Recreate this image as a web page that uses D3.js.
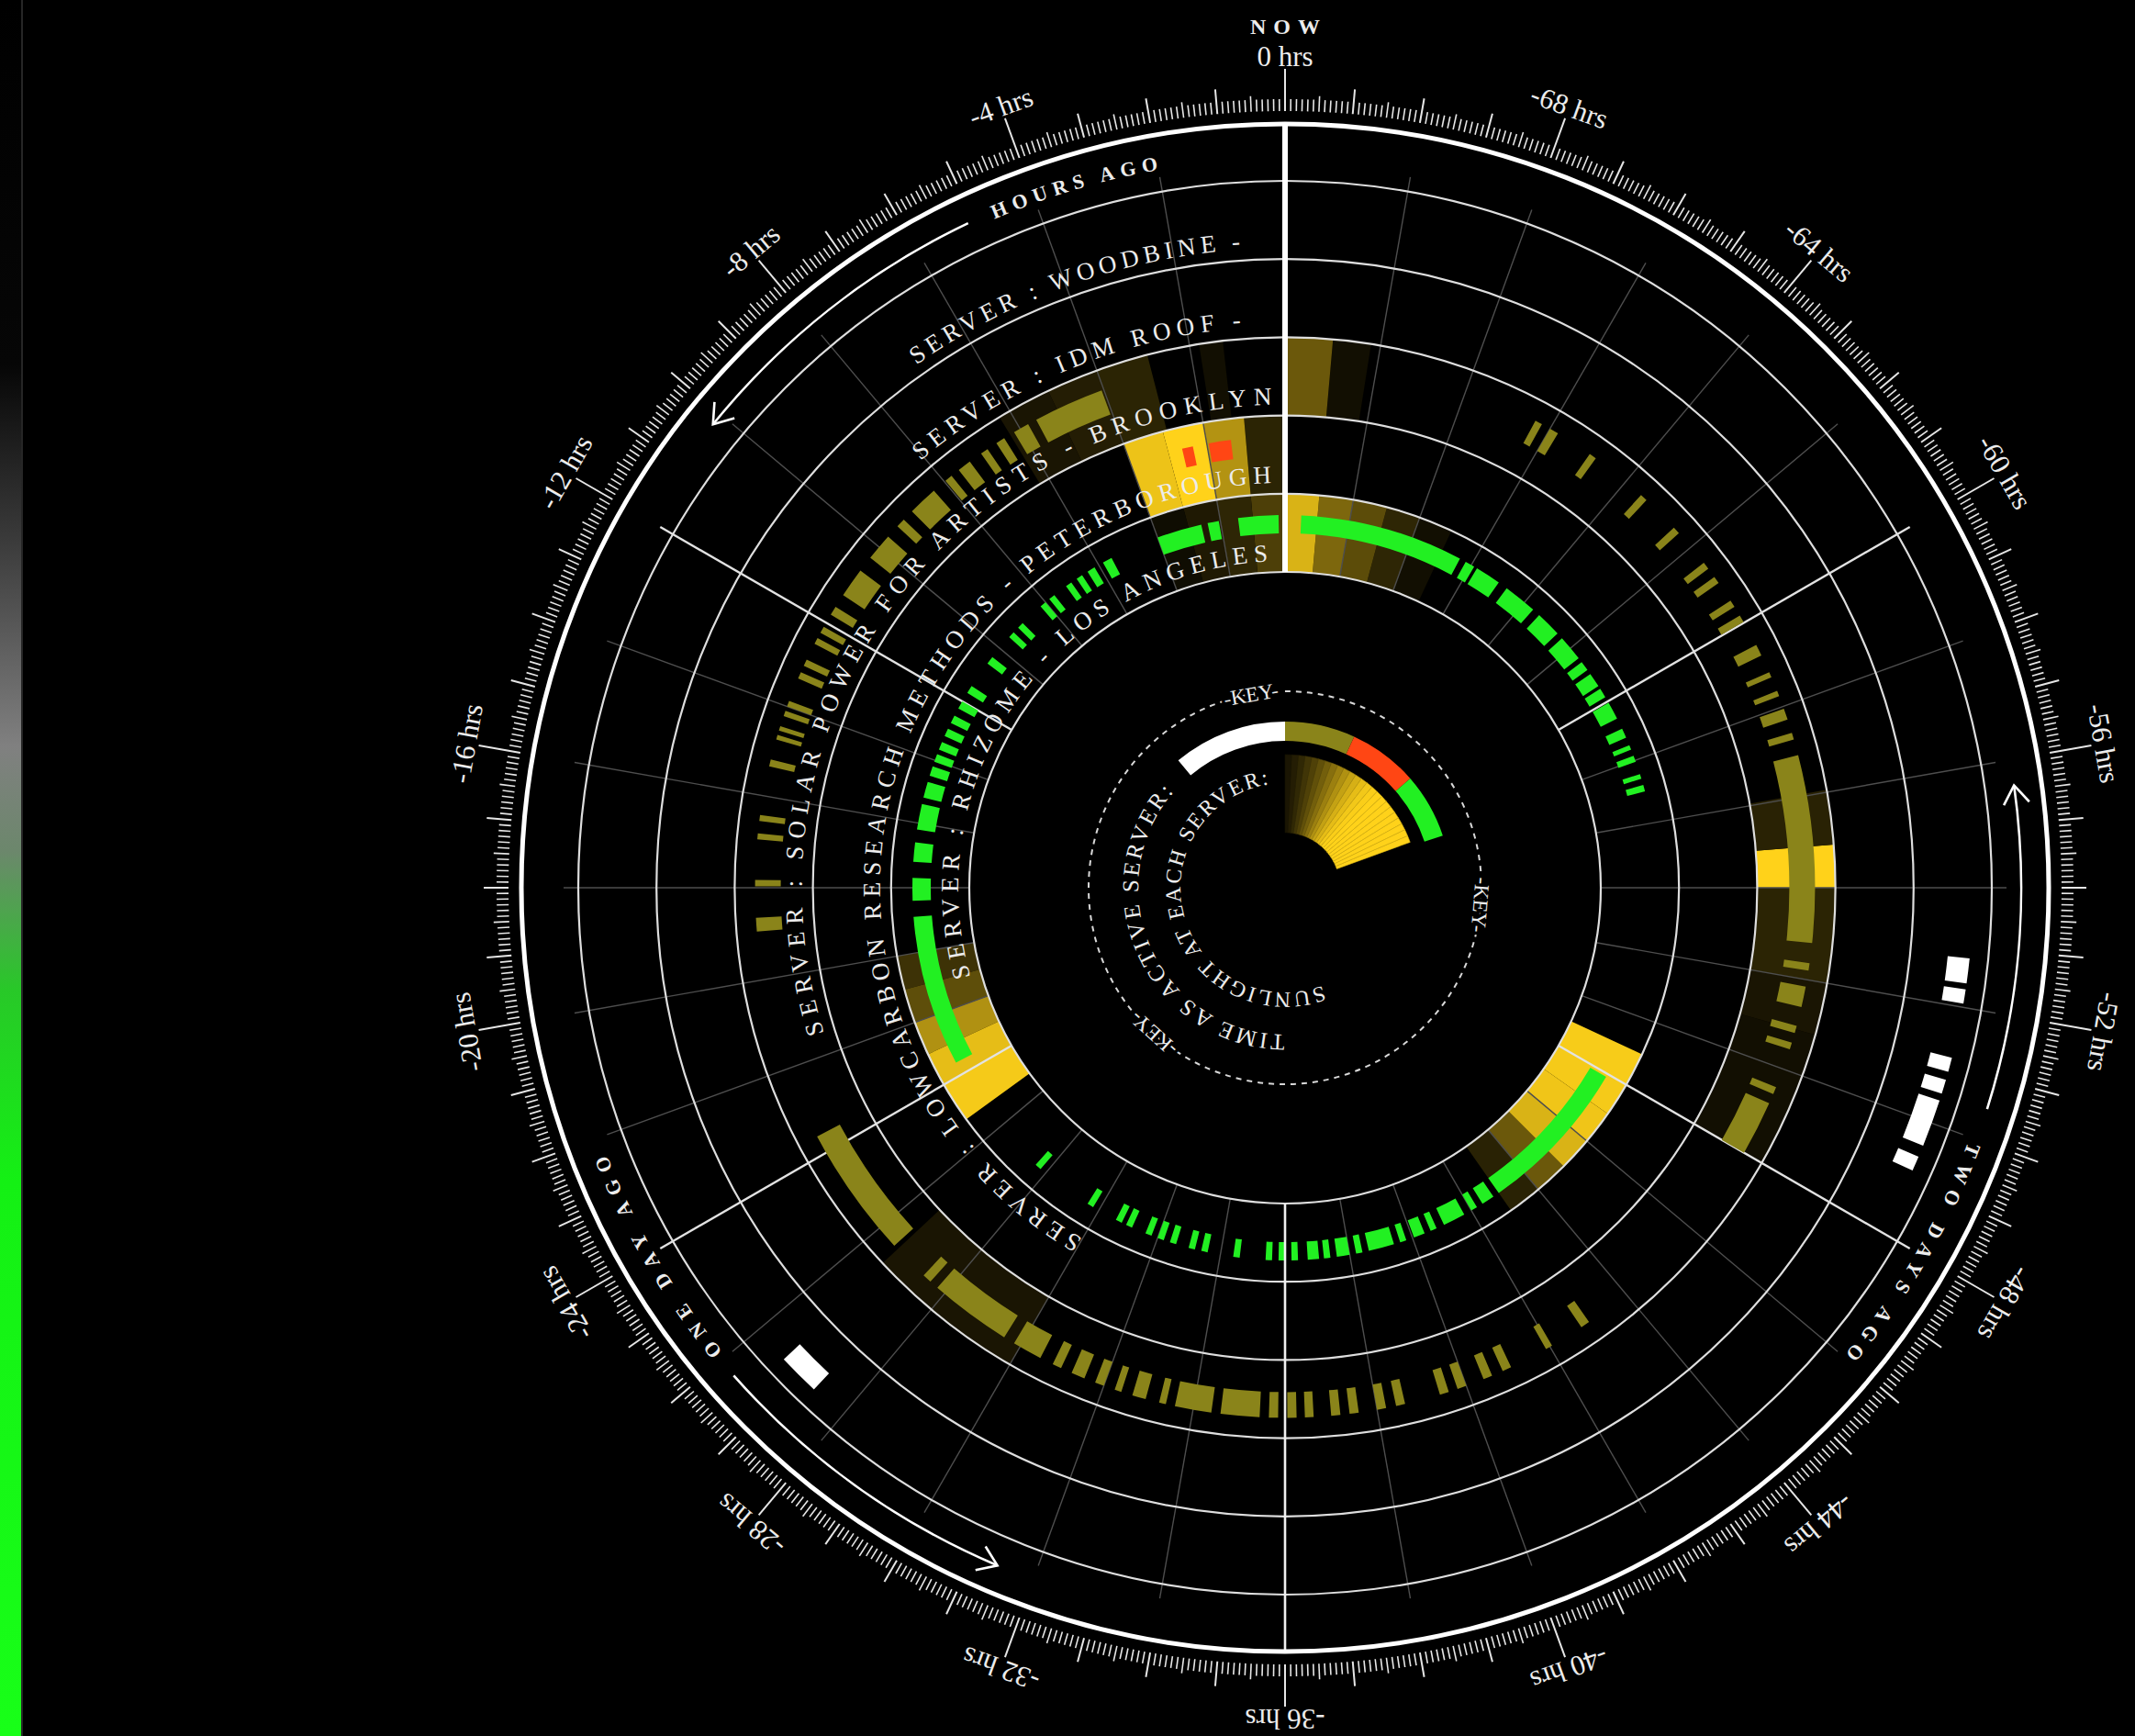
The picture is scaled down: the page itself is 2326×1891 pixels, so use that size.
<!DOCTYPE html>
<html lang="en">
<head>
<meta charset="UTF-8">
<title>Solar servers - the last 72 hours</title>
<script src="https://d3js.org/d3.v7.min.js"></script>
<style>
  html, body { margin: 0; padding: 0; background: #000; overflow: hidden; }
  svg { display: block; }
  text { font-family: "Liberation Serif", "Times New Roman", serif; fill: #ececec; }
</style>
</head>
<body>
<script>
// ---- data: times are hours ago (0 = now, 72 = three days ago) ----
const servers = [
  "SERVER : WOODBINE -",
  "SERVER : IDM ROOF -",
  "SERVER : SOLAR POWER FOR ARTISTS - BROOKLYN",
  "SERVER : LOWCARBON RESEARCH METHODS - PETERBOROUGH",
  "SERVER : RHIZOME - LOS ANGELES"
];

const hourLabels = [0, -4, -8, -12, -16, -20, -24, -28, -32, -36, -40, -44, -48, -52, -56, -60, -64, -68];

// time as active server [from, to]
const woodbineActive = [[26.65, 27.36], [49.15, 49.4], [49.6, 50.4], [50.52, 50.76], [50.9, 51.14], [52.06, 52.3], [52.4, 52.82]];

const brooklynActive = [
  [4.05, 5.6], [5.8, 6.15], [6.4, 6.6], [6.83, 7.0], [7.3, 7.6], [7.8, 7.97], [8.3, 8.95], [9.2, 9.4], [9.7, 10.3],
  [10.65, 11.3], [11.6, 11.8], [12.1, 12.25], [12.38, 12.52], [12.9, 13.05], [13.2, 13.35], [13.87, 14.0], [14.1, 14.22],
  [14.45, 14.55], [14.65, 14.75], [15.2, 15.35], [16.42, 16.55], [16.82, 16.95], [17.83, 17.97], [18.65, 18.95],
  [23.6, 26.5], [27.4, 27.6], [27.8, 29.6], [29.85, 30.5], [30.8, 31.0], [31.25, 31.55], [31.8, 32.0], [32.25, 32.4],
  [32.65, 32.95], [33.25, 33.4], [33.6, 34.4], [34.6, 35.45], [35.65, 35.85], [36.05, 36.25], [36.43, 36.62], [37.0, 37.2],
  [37.4, 37.6], [38.0, 38.2], [38.42, 38.62], [39.4, 39.6], [39.8, 40.0], [40.4, 40.6], [40.85, 41.05], [41.9, 42.05], [42.8, 43.0],
  [48.0, 49.2], [49.42, 49.58], [50.45, 50.6], [50.82, 50.98], [51.4, 51.85], [52.2, 52.36], [52.8, 56.9], [57.25, 57.4],
  [57.7, 57.95], [58.24, 58.36], [58.68, 58.8], [59.2, 59.45], [60.02, 60.18], [60.4, 60.56], [61.02, 61.18], [61.4, 61.56],
  [62.4, 62.56], [63.4, 63.56], [64.82, 64.98], [65.8, 66.0], [66.2, 66.36]
];

const peterboroughActive = [[1.38, 1.95], [2.36, 2.64]];

const rhizomeActive = [
  [0.2, 1.45], [2.05, 2.4], [2.6, 4.0], [5.55, 5.85], [6.15, 6.4], [6.6, 6.8], [7.0, 7.2], [7.65, 7.85], [8.0, 8.2],
  [8.95, 9.15], [9.35, 9.55], [10.35, 10.6], [11.45, 11.7], [12.0, 12.25], [12.5, 12.75], [12.95, 13.2], [13.4, 13.65],
  [13.8, 14.05], [14.2, 14.5], [14.7, 15.2], [15.4, 16.2], [16.6, 17.2], [17.7, 18.4], [18.9, 23.6], [27.6, 27.8],
  [29.6, 29.8], [30.6, 30.8], [30.95, 31.15], [31.6, 31.8], [32.0, 32.2], [32.4, 32.6], [33.0, 33.2], [33.4, 33.6],
  [34.4, 34.6], [35.4, 35.6], [35.8, 35.98], [36.2, 36.4], [36.7, 37.05], [37.2, 37.4], [37.6, 38.0], [38.2, 38.4],
  [38.6, 39.4], [39.6, 39.8], [40.05, 40.4], [40.6, 40.8], [41.05, 41.75], [42.0, 42.2], [42.4, 42.8], [43.0, 47.9],
  [57.0, 57.2], [57.4, 57.55], [57.95, 58.15], [58.35, 58.5], [58.75, 59.05], [59.4, 59.95], [60.15, 60.45], [60.55, 61.0],
  [61.15, 61.45], [61.6, 62.4], [62.6, 63.4], [63.65, 64.7], [65.0, 65.8], [65.9, 66.2], [66.4, 71.5]
];

// sunlight at each server [from, to, intensity 0..1]
const brooklynSun = [
  [1.3, 1.8, 0.07], [2.9, 4.0, 0.17], [4.0, 5.1, 0.14], [5.1, 6.25, 0.1], [26.6, 30.0, 0.1],
  [48.0, 50.9, 0.07], [50.9, 52.0, 0.1], [52.0, 54.0, 0.17], [54.0, 54.9, 1.0], [54.9, 56.05, 0.16],
  [70.2, 71.0, 0.07], [71.0, 72.0, 0.42]
];
const peterboroughSun = [[0, 1, 0.17], [1, 2, 0.7], [2, 3, 1.0], [3, 4, 0.93]];
const rhizomeSun = [
  [0, 1, 0.3], [1, 2, 0.18], [2, 3, 0.12], [3, 4, 0.06],
  [20, 21, 0.24], [21, 22, 0.37], [22, 23, 0.69], [23, 24, 0.9], [24, 25.2, 0.96],
  [43, 44, 0.16], [44, 45, 0.42], [45, 46, 0.85], [46, 47, 0.94], [47, 48, 0.96], [48, 49, 0.97],
  [67, 68, 0.07], [68, 69, 0.18], [69, 70, 0.36], [70, 71, 0.49], [71, 72, 0.85]
];

// legend: sunlight gradient levels
const keySunLevels = [0.1, 0.14, 0.19, 0.25, 0.31, 0.38, 0.45, 0.53, 0.61, 0.69, 0.77, 0.84, 0.9, 0.95, 0.98, 1, 1, 1, 1, 1, 1, 1, 1, 1];

// ---- drawing ----
const W = 2326, H = 1891, cx = 1400, cy = 967;
const OLIVE = "#8a841a", RED = "#ff4614", GREEN = "#22f022";

const svg = d3.select("body").append("svg").attr("width", W).attr("height", H);
svg.append("rect").attr("width", W).attr("height", H).attr("fill", "#000");
const defs = svg.append("defs");

// left side bar
const grad = defs.append("linearGradient").attr("id", "bar")
  .attr("x1", 0).attr("x2", 0).attr("y1", 0).attr("y2", 1);
[[0, "#000"], [0.21, "#060606"], [0.31, "#3a3a3a"], [0.43, "#808080"], [0.49, "#6c876c"],
 [0.57, "#28c828"], [0.68, "#14f014"], [1, "#18ff18"]]
  .forEach(([o, c]) => grad.append("stop").attr("offset", o).attr("stop-color", c));
svg.append("rect").attr("x", 0).attr("y", 0).attr("width", 23).attr("height", H).attr("fill", "url(#bar)");
svg.append("rect").attr("x", 23).attr("y", 0).attr("width", 2).attr("height", H).attr("fill", "#262626");

const g = svg.append("g").attr("transform", `translate(${cx},${cy})`);
const rad = d3.scaleLinear().domain([0, 72]).range([0, -2 * Math.PI]);
const deg = d3.scaleLinear().domain([0, 72]).range([0, -360]);
const ring = d3.scaleBand().domain(servers).range([770, 344]);
const sun = d3.scaleLinear().domain([0, 1]).range(["#000000", "#ffd21a"]);
const arc = d3.arc();

let pid = 0;
function arcPath(r, a0, a1) {
  const p = a => [r * Math.sin(a * Math.PI / 180), -r * Math.cos(a * Math.PI / 180)];
  const [x0, y0] = p(a0), [x1, y1] = p(a1);
  return `M${x0},${y0}A${r},${r} 0 ${a1 - a0 > 180 ? 1 : 0} 1 ${x1},${y1}`;
}
// text laid clockwise along a circle, spread to fill a0..a1 (degrees)
function arcText(parent, r, a0, a1, str, size, weight) {
  const id = "tp" + pid++;
  defs.append("path").attr("id", id).attr("d", arcPath(r, a0, Math.min(a1 + 12, a0 + 359)));
  const t = parent.append("text").attr("font-size", size).attr("font-weight", weight);
  t.append("textPath").attr("href", "#" + id).text(str);
  const target = r * (a1 - a0) * Math.PI / 180;
  const natural = t.node().getComputedTextLength();
  t.attr("letter-spacing", (target - natural) / Math.max(1, str.length - 1));
  return t;
}

// sunlight cells
[[servers[2], brooklynSun], [servers[3], peterboroughSun], [servers[4], rhizomeSun]].forEach(([s, cells]) => {
  const r0 = ring(s), r1 = r0 + ring.bandwidth();
  g.append("g").selectAll("path").data(cells).join("path")
    .attr("d", d => arc({innerRadius: r0, outerRadius: r1, startAngle: rad(d[1]), endAngle: rad(d[0])}))
    .attr("fill", d => sun(d[2]));
});

// dim spokes every 2 hours
const spokeHours = d3.range(0, 72, 2);
g.append("g").selectAll("line").data(spokeHours.filter(h => h % 12 !== 0)).join("line")
  .attr("transform", d => `rotate(${deg(d)})`)
  .attr("y1", -344).attr("y2", -786)
  .attr("stroke", "#4e4e4e").attr("stroke-width", 1.4);

// ring circles
const ringEdges = servers.map(s => ring(s)).concat([770]);
g.append("g").selectAll("circle").data(ringEdges).join("circle")
  .attr("r", d => d).attr("fill", "none").attr("stroke", "#dedede").attr("stroke-width", 2.2);

// bright spokes every 12 hours
g.append("g").selectAll("line").data([12, 24, 48, 60]).join("line")
  .attr("transform", d => `rotate(${deg(d)})`)
  .attr("y1", -344).attr("y2", -786)
  .attr("stroke", "#e2e2e2").attr("stroke-width", 2.4);

// time as active server
const activity = [
  {server: servers[0], blocks: woodbineActive, color: "#ffffff", band: [41, 65]},
  {server: servers[2], blocks: brooklynActive, color: OLIVE, band: [35, 63]},
  {server: servers[3], blocks: peterboroughActive, color: RED, band: [41, 62]},
  {server: servers[4], blocks: rhizomeActive, color: GREEN, band: [42, 62]}
];
activity.forEach(a => {
  const r0 = ring(a.server);
  g.append("g").selectAll("path").data(a.blocks).join("path")
    .attr("d", d => arc({innerRadius: r0 + a.band[0], outerRadius: r0 + a.band[1], startAngle: rad(d[1]), endAngle: rad(d[0])}))
    .attr("fill", a.color);
});

// now / 36 hours lines
g.append("line").attr("y1", -344).attr("y2", -832).attr("stroke", "#fff").attr("stroke-width", 6);
g.append("line").attr("y1", 344).attr("y2", 832).attr("stroke", "#f0f0f0").attr("stroke-width", 2.6);

// outer circle and ticks
g.append("circle").attr("r", 832).attr("fill", "none").attr("stroke", "#fff").attr("stroke-width", 5);
g.append("g").selectAll("line").data(d3.range(0, 72 * 12)).join("line")
  .attr("transform", d => `rotate(${deg(d / 12)})`)
  .attr("y1", -846)
  .attr("y2", d => d % 48 === 0 ? -892 : d % 12 === 0 ? -873 : d % 6 === 0 ? -863 : -859)
  .attr("stroke", "#e6e6e6").attr("stroke-width", d => d % 12 === 0 ? 2 : 1.6);

g.append("g").selectAll("text").data(hourLabels).join("text")
  .attr("transform", d => `rotate(${deg(-d)}) translate(0,-895)`)
  .attr("text-anchor", "middle").attr("font-size", 31).attr("fill", "#d6d6d6")
  .text(d => `${d} hrs`);

g.append("text").attr("y", -930).attr("text-anchor", "middle").attr("dx", 4)
  .attr("font-size", 24).attr("font-weight", "bold").attr("letter-spacing", 8).text("NOW");

// direction arrows and day labels
const arrowArcs = [[-51, -25.5], [-157, -131.5], [82, 107.5]];
arrowArcs.forEach(([a0, a1]) => {
  g.append("path").attr("d", arcPath(802, a0, a1)).attr("fill", "none").attr("stroke", "#fff").attr("stroke-width", 2.6);
  g.append("path").attr("transform", `rotate(${a0})`)
    .attr("d", "M20,-816L0,-802L20,-788")
    .attr("fill", "none").attr("stroke", "#fff").attr("stroke-width", 2.6);
});
arcText(g, 794, -23.5, -10, "HOURS AGO", 22, "bold");
arcText(g, 794, -129.5, -111.5, "ONE DAY AGO", 22, "bold");
arcText(g, 794, 110.4, 129.8, "TWO DAYS AGO", 22, "bold");

// server labels along each ring
const labelSpan = [[-35.2, -4.0], [-40.5, -4.5], [-107.5, -1.6], [-150, -2.0], [-105.8, -3.0]];
servers.forEach((s, i) => arcText(g, ring(s) + 12, labelSpan[i][0], labelSpan[i][1], s, 27, "normal"));

// ---- key ----
const key = g.append("g");
key.append("circle").attr("r", 214).attr("fill", "none")
  .attr("stroke", "#d8d8d8").attr("stroke-width", 2).attr("stroke-dasharray", "6 6");
[[-40, 0, "#ffffff"], [0, 24.6, OLIVE], [24.6, 48.9, RED], [48.9, 71.7, GREEN]].forEach(([a0, a1, c]) => {
  key.append("path")
    .attr("d", arc({innerRadius: 160, outerRadius: 181, startAngle: a0 * Math.PI / 180, endAngle: a1 * Math.PI / 180}))
    .attr("fill", c);
});
const fanStep = 70 / keySunLevels.length;
key.append("g").selectAll("path").data(keySunLevels).join("path")
  .attr("d", (d, i) => arc({innerRadius: 60, outerRadius: 145,
    startAngle: i * fanStep * Math.PI / 180, endAngle: (i + 1) * fanStep * Math.PI / 180}))
  .attr("fill", d => sun(d)).attr("stroke", d => sun(d * 0.85)).attr("stroke-width", 0.6);

arcText(key, 160, 180, 310.6, "TIME AS ACTIVE SERVER:", 25, "normal");
arcText(key, 114, 159, 351, "SUNLIGHT AT EACH SERVER:", 24, "normal");

key.selectAll("text.key").data([-10, 95, 222]).join("text").attr("class", "key")
  .attr("transform", d => `rotate(${d}) translate(0,-214)`)
  .attr("dy", "0.35em").attr("text-anchor", "middle").attr("font-size", 23)
  .attr("stroke", "#000").attr("stroke-width", 7).attr("paint-order", "stroke")
  .text("-KEY-");
</script>
</body>
</html>
